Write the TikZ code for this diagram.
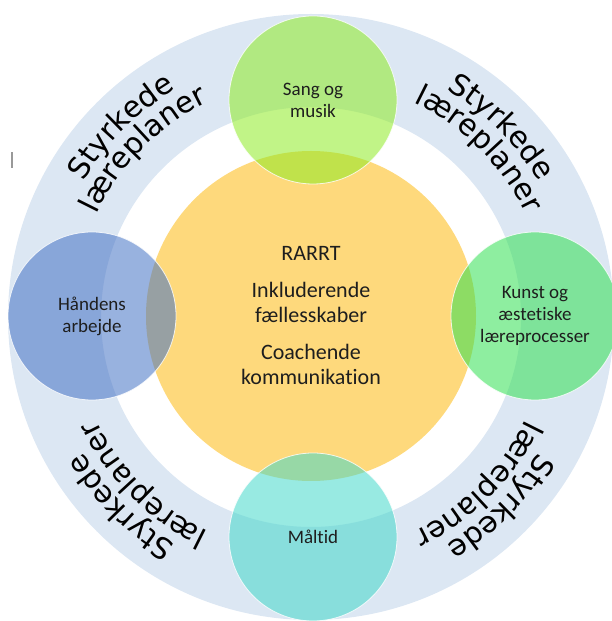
\documentclass[tikz,border=0pt]{standalone}
\usepackage{fontspec}
\setmainfont{Carlito}[Ligatures=NoCommon]
\newfontfamily\ringfamily{DejaVu Sans}
\usetikzlibrary{decorations.text}

\definecolor{ringblue}{RGB}{220,231,243}
\definecolor{coreorange}{RGB}{254,217,124}
\definecolor{songgreen}{RGB}{142,235,36}
\definecolor{artgreen}{RGB}{49,224,82}
\definecolor{handblue}{RGB}{68,114,196}
\definecolor{mealteal}{RGB}{67,216,202}
\definecolor{inktext}{RGB}{30,30,30}

\tikzset{
  petal/.style={circle, minimum size=168pt, inner sep=0pt, fill opacity=0.55, text opacity=1,
    draw=white, draw opacity=0.8, line width=0.8pt, align=center,
    font=\fontsize{19}{22}\selectfont, text=inktext},
  core/.style={circle, minimum size=330pt, inner sep=0pt, fill=coreorange, align=center,
    font=\fontsize{22}{25.5}\selectfont, text=inktext},
}

% angle, radius, word (shadow first)
\newcommand\ringword[3]{%
  \path[decorate, xshift=1pt, yshift=-1pt,
    decoration={text along path, text align=center, text color=black!30,
      text={|\ringfamily\fontsize{29.5}{29.5}\selectfont|#3}}]
    ([shift={(#1+45:#2)}]c) arc[start angle=#1+45, end angle=#1-45, radius=#2 pt];
  \path[decorate,
    decoration={text along path, text align=center, text color=black,
      text={|\ringfamily\fontsize{29.5}{29.5}\selectfont|#3}}]
    ([shift={(#1+45:#2)}]c) arc[start angle=#1+45, end angle=#1-45, radius=#2 pt];
}

\begin{document}
\begin{tikzpicture}[x=1pt,y=1pt]
  \useasboundingbox (0,0) rectangle (612,621);
  \clip (0,0) rectangle (612,621);
  \coordinate (c) at (311,304);

  % outer ring
  \fill[ringblue, even odd rule] (c) circle[radius=303pt] (c) circle[radius=210pt];
  \foreach \ang in {135,45,-45,-135} {
    \ringword{\ang}{265}{Styrkede}
    \ringword{\ang}{238}{læreplaner}
  }

  \node[core] (core) at (311,305) {RARRT\\[11pt]Inkluderende\\fællesskaber\\[11pt]Coachende\\kommunikation};

  \node[petal, fill=songgreen] (song) at (313,521) {Sang og\\musik};
  \node[petal, fill=handblue] (hands) at (92,305) {Håndens\\arbejde};
  \node[petal, fill=artgreen] (art) at (535,305) {Kunst og\\æstetiske\\læreprocesser};
  \node[petal, fill=mealteal] (meal) at (313,84) {Måltid};

  \fill[black!40] (10.5,453) rectangle (12.5,469);
\end{tikzpicture}
\end{document}
